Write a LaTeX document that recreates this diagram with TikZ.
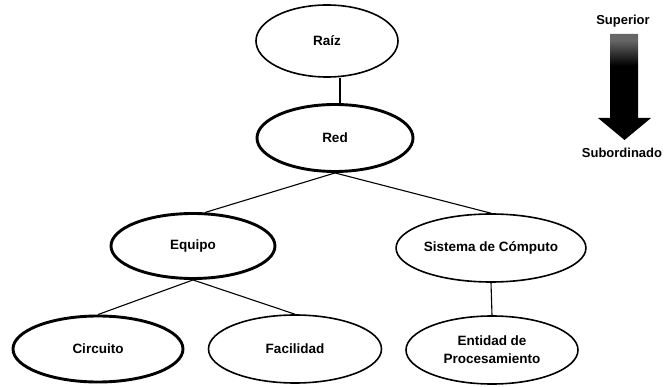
\documentclass[tikz,border=0pt]{standalone}
\usepackage{fontspec}
\setmainfont{Liberation Sans}
\usetikzlibrary{shapes.geometric}

% vertical fade for the hierarchy arrow: light at the top, black below
\pgfdeclareverticalshading{hierfade}{100bp}{%
  color(0bp)=(black); color(60bp)=(black);
  color(72bp)=(black!60); color(100bp)=(black!60)}

\tikzset{
  entity/.style={ellipse, draw=black, inner sep=0pt, line width=1.6pt,
    font=\fontsize{13.5}{18}\selectfont\bfseries, align=center},
  keyentity/.style={entity, line width=2.9pt},
  link/.style={draw=black, line width=1.1pt},
  caption/.style={font=\fontsize{13}{15}\selectfont\bfseries, inner sep=0pt}
}

\begin{document}
\begin{tikzpicture}[x=1pt, y=-1pt]
  \useasboundingbox (0,0) rectangle (664,387);

  % hierarchy tree
  \node[entity, minimum width=142pt, minimum height=72pt] (raiz) at (327,41) {Raíz};
  \node[keyentity, minimum width=156pt, minimum height=67pt] (red) at (335,138) {Red};
  \node[keyentity, minimum width=164pt, minimum height=65pt] (equipo) at (193,246) {Equipo};
  \node[entity, minimum width=171pt, minimum height=68pt] (sistema) at (491,248) {Sistema de Cómputo};
  \node[keyentity, minimum width=170pt, minimum height=66pt] (circuito) at (98,349) {Circuito};
  \node[entity, minimum width=173pt, minimum height=68pt] (facilidad) at (295,349) {Facilidad};
  \node[entity, minimum width=172pt, minimum height=68pt] (entidad) at (492,350) {Entidad de\\Procesamiento};

  \coordinate (rtop) at ([xshift=5pt]red.north);
  \draw[link] (rtop) -- (rtop |- raiz.south);
  \draw[link] (red.south) -- (equipo.70);
  \draw[link] (red.south) -- (sistema.north);
  \draw[link] (equipo.south) -- (circuito.north);
  \draw[link] (equipo.south) -- (facilidad.north);
  \draw[link] (sistema.south) -- (entidad.north);

  % superior -> subordinate legend
  \node[caption] (sup) at (623,21) {Superior};
  \node[caption] (sub) at (622,153) {Subordinado};
  \shade[shading=hierfade]
    (610,34) -- (638,34) -- (638,118) -- (651,118) -- (624.5,140)
    -- (598,118) -- (610,118) -- cycle;
\end{tikzpicture}
\end{document}
